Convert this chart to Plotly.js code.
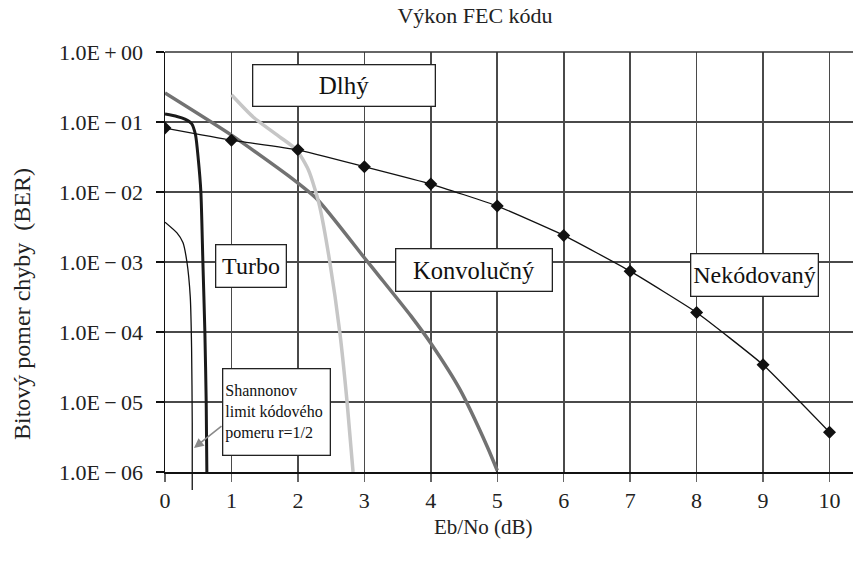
<!DOCTYPE html>
<html>
<head>
<meta charset="utf-8">
<script src="https://cdn.plot.ly/plotly-3.0.1.min.js"></script>
<style>html,body{margin:0;padding:0;background:#fff;}#chart{width:853px;height:563px;}</style>
</head>
<body>
<div id="chart"></div>
<script>
// ---- data ----
const ebno = [0, 1, 2, 3, 4, 5, 6, 7, 8, 9, 10];
const uncodedBer = [0.082, 0.055, 0.040, 0.023, 0.013, 0.0063, 0.0024, 7.4e-4, 1.9e-4, 3.4e-5, 3.7e-6];

const convX = [0, 1, 1.88, 2.3, 3, 3.24, 3.7, 4, 4.44, 4.85, 5];
const convBer = [0.26, 0.065, 0.0164, 0.0077, 1.15e-3, 6e-4, 1.7e-4, 6.9e-5, 1.5e-5, 2.3e-6, 1.05e-6];

const longX = [1.0, 1.33, 1.73, 1.98, 2.16, 2.26, 2.33, 2.48, 2.63, 2.74, 2.83];
const longBer = [0.245, 0.117, 0.061, 0.04, 0.0205, 0.0107, 0.0061, 1e-3, 1e-4, 1e-5, 1e-6];

const turboX = [0, 0.18, 0.30, 0.40, 0.46, 0.50, 0.54, 0.57, 0.60, 0.62, 0.63];
const turboBer = [0.13, 0.12, 0.11, 0.095, 0.065, 0.03, 0.01, 1e-3, 1e-4, 1e-5, 1e-6];

const shannonX = [0, 0.18, 0.27, 0.33, 0.38, 0.40, 0.41, 0.41];
const shannonBer = [0.0037, 0.0026, 0.0019, 1e-3, 3.2e-4, 6e-5, 5e-6, 1e-6];
const shannonLimit = 0.41;

const xTicks = [0, 1, 2, 3, 4, 5, 6, 7, 8, 9, 10];
const yTickVals = [1, 0.1, 0.01, 1e-3, 1e-4, 1e-5, 1e-6];
const yTickText = ['1.0E\u2009+\u200900', '1.0E\u2009\u2212\u200901', '1.0E\u2009\u2212\u200902', '1.0E\u2009\u2212\u200903',
                   '1.0E\u2009\u2212\u200904', '1.0E\u2009\u2212\u200905', '1.0E\u2009\u2212\u200906'];

const titleText = 'Výkon FEC kódu';
const xTitle = 'Eb/No (dB)';
const yTitle = 'Bitový pomer chyby\u00a0\u00a0(BER)';
const labelLong = 'Dlhý';
const labelTurbo = 'Turbo';
const labelConv = 'Konvolučný';
const labelUncoded = 'Nekódovaný';
const labelShannon = 'Shannonov<br>limit kódového<br>pomeru r=1/2';

// ---- layout helpers ----
const FONT = 'Liberation Serif, Times New Roman, serif';
const L = 165, T = 52, W = 688, H = 420;
const px = v => (v - L) / W;
const py = v => (T + H - v) / H;

function box(text, x0, y0, x1, y1, size, align) {
  const bw = 1.3, pad = 2;
  return {
    xref: 'paper', yref: 'paper',
    x: px((x0 + x1) / 2), y: py((y0 + y1) / 2),
    xanchor: 'center', yanchor: 'middle',
    text: text, showarrow: false,
    width: (x1 - x0) - 2 * (bw + pad), height: (y1 - y0) - 2 * (bw + pad),
    borderwidth: bw, borderpad: pad, bordercolor: '#222', bgcolor: '#fff',
    align: align || 'center',
    font: {family: FONT, size: size, color: '#111'}
  };
}

const traces = [
  {x: convX, y: convBer, mode: 'lines', line: {color: '#727272', width: 3.5, shape: 'spline', smoothing: 0.6}},
  {x: longX, y: longBer, mode: 'lines', line: {color: '#c6c6c6', width: 3.5, shape: 'spline', smoothing: 0.6}},
  {x: shannonX, y: shannonBer, mode: 'lines', line: {color: '#111', width: 1.3, shape: 'spline', smoothing: 0.6}},
  {x: turboX, y: turboBer, mode: 'lines', line: {color: '#1a1a1a', width: 3, shape: 'spline', smoothing: 0.6}},
  {x: ebno, y: uncodedBer, mode: 'lines+markers', line: {color: '#111', width: 1.3, shape: 'spline', smoothing: 0.4},
   marker: {symbol: 'diamond', size: 10, color: '#111'}}
];

const layout = {
  width: 853, height: 563,
  margin: {l: L, r: 853 - L - W, t: T, b: 563 - T - H},
  paper_bgcolor: '#fff', plot_bgcolor: '#fff',
  showlegend: false,
  font: {family: FONT, size: 16, color: '#222'},
  title: {text: titleText, x: px(475), xanchor: 'center', xref: 'paper', y: 1 - 15 / 563, yanchor: 'middle', yref: 'container',
          font: {family: FONT, size: 22, color: '#222'}},
  xaxis: {
    range: [0, W / 66.45], tickmode: 'array', tickvals: xTicks, ticktext: xTicks.map(String),
    showgrid: true, gridcolor: '#4a4a4a', gridwidth: 1.6,
    showline: true, linecolor: '#111', linewidth: 1.5,
    ticks: 'outside', ticklen: 8, tickcolor: '#666', tickwidth: 1.5,
    tickfont: {family: FONT, size: 22, color: '#222'}, ticklabelstandoff: 0,
    zeroline: false
  },
  yaxis: {
    type: 'log', range: [-6, 0], tickmode: 'array', tickvals: yTickVals, ticktext: yTickText,
    showgrid: true, gridcolor: '#4a4a4a', gridwidth: 1.6,
    showline: true, linecolor: '#111', linewidth: 1.5,
    ticks: 'outside', ticklen: 8, tickcolor: '#111', tickwidth: 1.5,
    tickfont: {family: FONT, size: 22, color: '#222'}, ticklabelstandoff: 8,
    zeroline: false
  },
  shapes: [
    {type: 'line', xref: 'x', yref: 'paper', x0: shannonLimit, x1: shannonLimit, y0: py(490), y1: 0,
     line: {color: '#111', width: 1.3}},
    {type: 'line', xref: 'paper', yref: 'paper', x0: 0, x1: 1, y0: 1, y1: 1, line: {color: '#333', width: 1.6}}
  ],
  annotations: [
    {xref: 'paper', yref: 'paper', x: px(22), y: py(304), text: yTitle, textangle: -90, showarrow: false,
     xanchor: 'center', yanchor: 'middle', font: {family: FONT, size: 24, color: '#222'}},
    {xref: 'paper', yref: 'paper', x: px(483), y: py(527), text: xTitle, showarrow: false,
     xanchor: 'center', yanchor: 'middle', font: {family: FONT, size: 21, color: '#222'}},
    box(labelLong, 252, 64, 436, 107, 25),
    box(labelTurbo, 215, 244, 287, 288, 24),
    box(labelConv, 395, 248, 553, 292, 24.5),
    box(labelUncoded, 690, 253, 819, 297, 24),
    box(labelShannon, 222, 368, 331, 456, 16, 'left'),
    {xref: 'paper', yref: 'paper', x: px(194), y: py(448), ax: 29, ay: -23, axref: 'pixel', ayref: 'pixel',
     text: '', showarrow: true, arrowhead: 2, arrowsize: 1.2, arrowwidth: 1.6, arrowcolor: '#8a8a8a'}
  ]
};

Plotly.newPlot('chart', traces, layout, {staticPlot: true, displayModeBar: false});
</script>
</body>
</html>
